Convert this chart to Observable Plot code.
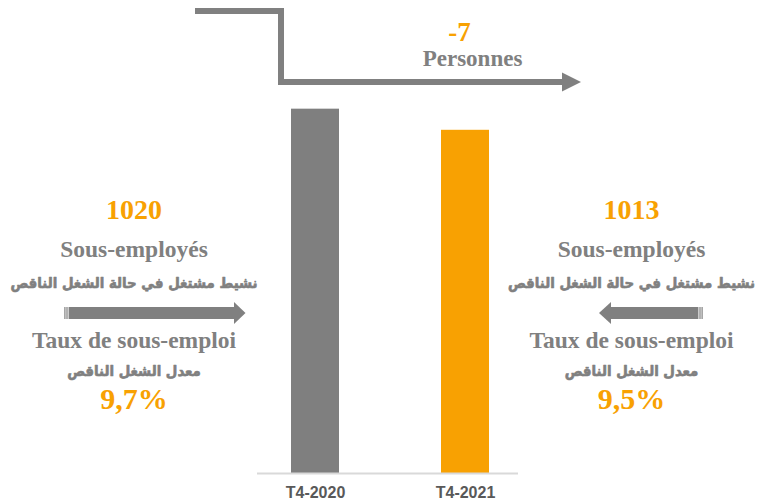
<!DOCTYPE html>
<html><head><meta charset="utf-8">
<script src="https://cdn.jsdelivr.net/npm/d3@7"></script>
<script src="https://cdn.jsdelivr.net/npm/@observablehq/plot@0.6"></script>
<style>body{margin:0;background:#fff}</style>
</head><body><div id="chart"></div>
<script>
// ---- data ----
const periods = ["T4-2020", "T4-2021"];
const underemployed = [1020, 1013];
const rates = ["9,7%", "9,5%"];
const changeValue = "-7";
const changeUnit = "Personnes";
const labelsFr = ["Sous-employés", "Taux de sous-emploi"];
const labelsAr = ["نشيط مشتغل في حالة الشغل الناقص", "معدل الشغل الناقص"];
const barColors = ["#7f7f7f", "#f8a102"];

const yBase = 899.3;
const data = periods.map((p, i) => ({period: p, value: underemployed[i], color: barColors[i]}));

const ORANGE = "#f8a102", GRAY = "#808080";
const serif = "'Liberation Serif','Times New Roman',serif";
const arab = "'DejaVu Sans Condensed','DejaVu Sans',sans-serif";

function txt(value, dx, dy, fill, family, size, extra = {}) {
  return Plot.text([value], {frameAnchor: "top-left", dx, dy, text: d => String(d), lineAnchor: "bottom",
    textAnchor: "middle", fill, fontFamily: family, fontWeight: "bold", fontSize: size, ...extra});
}

function block(i, cx) {
  const dx = cx - 257;
  const arOpts = {stroke: GRAY, strokeWidth: 0.6};
  return [
    txt(underemployed[i], dx, 218, ORANGE, serif, 28),
    txt(labelsFr[0], dx, 256, GRAY, serif, 23.5),
    txt(labelsAr[0], dx, 287, GRAY, arab, 14.8, arOpts),
    txt(labelsFr[1], dx, 347, GRAY, serif, 23.5),
    txt(labelsAr[1], dx, 375, GRAY, arab, 14.8, arOpts),
    txt(rates[i], dx, 408, ORANGE, serif, 30)
  ];
}

function arrows() {
  const g = d3.create("svg:g");
  // bent arrow at top
  g.append("path").attr("d", "M195,11H281V82H563").attr("fill", "none")
    .attr("stroke", GRAY).attr("stroke-width", 6).attr("stroke-linejoin", "miter");
  g.append("path").attr("d", "M562,72.5L581,82L562,91.5Z").attr("fill", GRAY);
  // left striped arrow (pointing right)
  g.append("rect").attr("x", 64.3).attr("y", 307).attr("width", 1.2).attr("height", 12).attr("fill", GRAY);
  g.append("rect").attr("x", 66.4).attr("y", 307).attr("width", 1.2).attr("height", 12).attr("fill", GRAY);
  g.append("rect").attr("x", 68.6).attr("y", 307).attr("width", 166.4).attr("height", 12).attr("fill", GRAY);
  g.append("path").attr("d", "M234,302L245.5,313L234,324Z").attr("fill", GRAY);
  // right striped arrow (pointing left)
  g.append("rect").attr("x", 701.5).attr("y", 307).attr("width", 1.2).attr("height", 12).attr("fill", GRAY);
  g.append("rect").attr("x", 699.4).attr("y", 307).attr("width", 1.2).attr("height", 12).attr("fill", GRAY);
  g.append("rect").attr("x", 610).attr("y", 307).attr("width", 88.4).attr("height", 12).attr("fill", GRAY);
  g.append("path").attr("d", "M611,302L599,313L611,324Z").attr("fill", GRAY);
  return g.node();
}

const chart = Plot.plot({
  width: 757,
  height: 504,
  marginLeft: 257,
  marginRight: 239,
  marginTop: 0,
  marginBottom: 31,
  style: {background: "#fff", overflow: "visible"},
  x: {domain: periods, paddingInner: 0.679, paddingOuter: 0.204, align: 0.537, label: null, axis: null},
  y: {domain: [yBase, 1056], axis: null},
  marks: [
    Plot.barY(data, {x: "period", y1: yBase, y2: "value", fill: "color"}),
    Plot.ruleY([yBase], {stroke: "#d9d9d9", strokeWidth: 2}),
    Plot.axisX({tickSize: 0, tickPadding: 13, fontSize: 16, fontWeight: "bold", fill: "#595959",
      fontFamily: "'Liberation Sans Narrow','Arial Narrow','Liberation Sans',Arial,sans-serif", label: null}),
    arrows,
    txt(changeValue, 202, 40, ORANGE, serif, 27),
    txt(changeUnit, 215, 65, GRAY, serif, 23),
    ...block(0, 133.5),
    ...block(1, 631)
  ]
});
document.getElementById("chart").appendChild(chart);
</script>
</body></html>
